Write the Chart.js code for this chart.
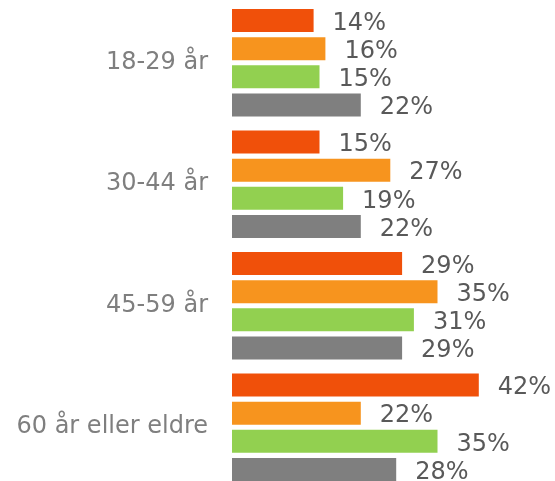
<!DOCTYPE html>
<html>
<head>
<meta charset="utf-8">
<script src="https://cdn.jsdelivr.net/npm/chart.js@4/dist/chart.umd.min.js"></script>
<style>
  html, body { margin: 0; padding: 0; background: #fff; overflow: hidden; }
  canvas { display: block; }
</style>
</head>
<body>
<canvas id="chart" width="555" height="488"></canvas>
<script>
const categories = ['18-29 år', '30-44 år', '45-59 år', '60 år eller eldre'];
const seriesA = [14, 15, 29, 42];
const seriesB = [16, 27, 35, 22];
const seriesC = [15, 19, 31, 35];
const seriesD = [22, 22, 29, 28];
const colors = ['#F0500A', '#F7941E', '#92D050', '#7F7F7F'];

// percent labels to the right of each bar
const valueLabels = {
    id: 'valueLabels',
    afterDatasetsDraw(chart) {
        const ctx = chart.ctx;
        ctx.save();
        ctx.font = '24px "DejaVu Sans"';
        ctx.fillStyle = '#595959';
        ctx.textAlign = 'left';
        ctx.textBaseline = 'middle';
        chart.data.datasets.forEach((ds, i) => {
            chart.getDatasetMeta(i).data.forEach((bar, j) => {
                ctx.fillText(ds.data[j] + '%', bar.x + 18, bar.y + 3);
            });
        });
        ctx.restore();
    }
};

const ctx = document.getElementById('chart');
new Chart(ctx, {
    type: 'bar',
    data: {
        labels: categories,
        datasets: [seriesA, seriesB, seriesC, seriesD].map((d, i) => ({
            data: d,
            backgroundColor: colors[i],
            borderColor: 'rgba(255,255,255,0.35)',
            borderWidth: 1,
            categoryPercentage: 0.926,
            barPercentage: 0.89
        }))
    },
    options: {
        indexAxis: 'y',
        responsive: false,
        animation: false,
        layout: { padding: { top: 2, right: 28, bottom: 0, left: 0 } },
        plugins: {
            legend: { display: false },
            tooltip: { enabled: false }
        },
        scales: {
            x: {
                display: false,
                min: 0,
                max: 50
            },
            y: {
                grid: { display: false, drawTicks: false },
                border: { display: false },
                ticks: {
                    padding: 24,
                    color: '#7F7F7F',
                    font: { family: 'DejaVu Sans', size: 24 }
                },
                afterFit(scale) {
                    scale.width = 232;
                    scale.paddingTop = 0;
                    scale.paddingBottom = 0;
                }
            }
        }
    },
    plugins: [valueLabels]
});
</script>
</body>
</html>
